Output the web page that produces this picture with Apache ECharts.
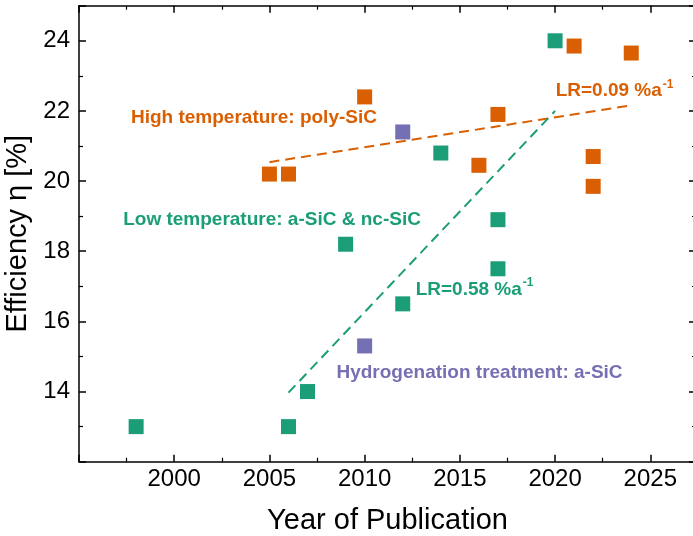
<!DOCTYPE html>
<html>
<head>
<meta charset="utf-8">
<script src="https://cdn.jsdelivr.net/npm/echarts@6/dist/echarts.min.js"></script>
<style>
html,body{margin:0;padding:0;background:#fff;}
#c{width:693px;height:536px;}
</style>
</head>
<body>
<div id="c"></div>
<script>
// ---- data ----
var lowTemp = [[1998,13.0],[2006,13.0],[2007,14.0],[2009,18.2],[2012,16.5],[2014,20.8],[2017,18.9],[2017,17.5],[2020,24.0]];
var highTemp = [[2005,20.2],[2006,20.2],[2010,22.4],[2016,20.45],[2017,21.9],[2021,23.85],[2022,20.7],[2022,19.85],[2024,23.65]];
var hydro = [[2012,21.4],[2010,15.3]];
var fitHigh = [[2005,20.54],[2024,22.16]];
var fitLow = [[2006,13.97],[2020,22.0]];
var xTicks = [2000,2005,2010,2015,2020,2025];
var yTicks = [14,16,18,20,22,24];
var annotations = [
  {text:'High temperature: poly-SiC', x:1997.73, y:21.8, color:'#d95f02'},
  {text:'Low temperature: a-SiC & nc-SiC', x:1997.32, y:18.91, color:'#1b9e77'},
  {text:'Hydrogenation treatment: a-SiC', x:2008.52, y:14.53, color:'#7570b3'},
  {text:'LR=0.09 %a', sup:'-1', x:2020.03, y:22.61, color:'#d95f02'},
  {text:'LR=0.58 %a', sup:'-1', x:2012.68, y:16.95, color:'#1b9e77'}
];

var GREEN='#1b9e77', ORANGE='#d95f02', PURPLE='#7570b3';
var FONT='"Liberation Sans", Arial, sans-serif';

var chart = echarts.init(document.getElementById('c'));
var axisCommon = {
  axisLine:{show:true,onZero:false,lineStyle:{color:'#000',width:1.5}},
  axisTick:{show:true,inside:true,length:7,lineStyle:{color:'#000',width:1.5}},
  minorTick:{show:true,splitNumber:2,length:4,lineStyle:{color:'#000',width:1.2}},
  splitLine:{show:false}
};
function xfmt(v){ return xTicks.indexOf(v)>=0 ? String(v) : ''; }
function yfmt(v){ return yTicks.indexOf(v)>=0 ? String(v) : ''; }

chart.setOption({
  animation:false,
  backgroundColor:'#fff',
  grid:{left:79,top:5.7,right:-3,bottom:74.3,containLabel:false,outerBoundsMode:'none'},
  xAxis:[
    Object.assign({type:'value',position:'bottom',min:1995,max:2027.4,interval:5,
      axisLabel:{formatter:xfmt,color:'#000',fontSize:24,fontFamily:FONT,margin:6,showMaxLabel:false},
      name:'Year of Publication',nameLocation:'middle',nameGap:45,
      nameTextStyle:{color:'#000',fontSize:29,fontFamily:FONT}}, axisCommon),
    Object.assign({type:'value',position:'top',min:1995,max:2027.4,interval:5,
      axisLabel:{show:false}}, axisCommon)
  ],
  yAxis:[
    Object.assign({type:'value',position:'left',min:12,max:25,interval:2,
      axisLabel:{formatter:yfmt,color:'#000',fontSize:24,fontFamily:FONT,margin:9},
      name:'Efficiency η [%]',nameLocation:'middle',nameGap:36,
      nameTextStyle:{color:'#000',fontSize:29,fontFamily:FONT}}, axisCommon),
    Object.assign({type:'value',position:'right',min:12,max:25,interval:2,
      axisLabel:{show:false}}, axisCommon)
  ],
  series:[
    {type:'line',data:fitHigh,showSymbol:false,symbol:'none',lineStyle:{color:ORANGE,width:2,type:[10,6]},z:2},
    {type:'line',data:fitLow,showSymbol:false,symbol:'none',lineStyle:{color:GREEN,width:2,type:[10,6]},z:2},
    {type:'scatter',data:lowTemp,symbol:'rect',symbolSize:15,itemStyle:{color:GREEN,opacity:1},z:3},
    {type:'scatter',data:highTemp,symbol:'rect',symbolSize:15,itemStyle:{color:ORANGE,opacity:1},z:3},
    {type:'scatter',data:hydro,symbol:'rect',symbolSize:15,itemStyle:{color:PURPLE,opacity:1},z:3}
  ]
});

var gfx = annotations.map(function(a){
  var p = chart.convertToPixel({xAxisIndex:0,yAxisIndex:0},[a.x,a.y]);
  var style;
  if (a.sup) {
    style = {text:'{m|'+a.text+'}{s|'+a.sup+'}',
      rich:{m:{fontSize:19,fontWeight:'bold',fontFamily:FONT,fill:a.color,color:a.color,lineHeight:22,verticalAlign:'bottom'},
            s:{fontSize:12,fontWeight:'bold',fontFamily:FONT,fill:a.color,color:a.color,lineHeight:22,verticalAlign:'top',padding:[0,0,0,1]}},
      fill:a.color, verticalAlign:'middle', align:'left'};
  } else {
    style = {text:a.text,fontSize:19,fontWeight:'bold',fontFamily:FONT,fill:a.color,verticalAlign:'middle',align:'left'};
  }
  return {type:'text',x:p[0],y:p[1],style:style,z:10};
});
chart.setOption({graphic:gfx});
</script>
</body>
</html>
